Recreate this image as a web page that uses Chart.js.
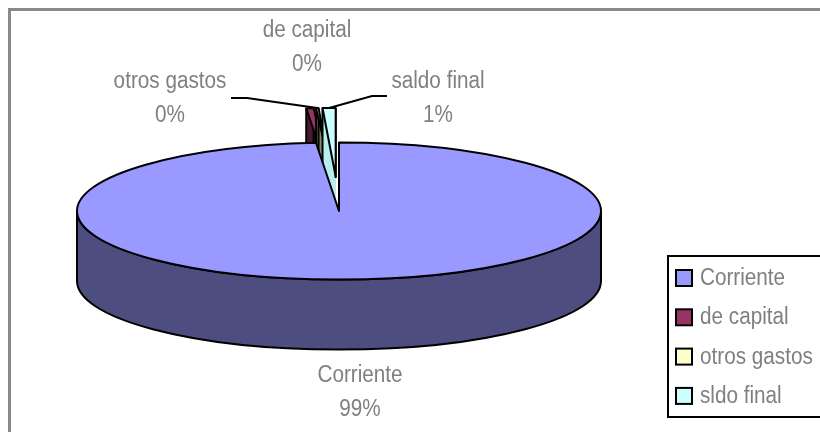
<!DOCTYPE html>
<html>
<head>
<meta charset="utf-8">
<script src="https://cdn.jsdelivr.net/npm/chart.js@4/dist/chart.umd.min.js"></script>
<style>
html, body { margin: 0; padding: 0; background: #fff; }
#caixa { width: 820px; height: 432px; position: relative; }
</style>
</head>
<body>
<div id="caixa"><canvas id="grafico"></canvas></div>
<script>
// dados
const categorias = ['Corriente', 'de capital', 'otros gastos', 'sldo final'];
const rotulos = ['Corriente', 'de capital', 'otros gastos', 'saldo final'];
const valores = [98.6, 0.45, 0.15, 0.8];

// estilos
const coresTopo = ['#9999ff', '#993366', '#ffffcc', '#ccffff'];
const coresLado = ['#4d4d80', '#4d1a33', '#8c8c6e', '#b8eeee'];
const separacao = [0, 85, 85, 85];
const RX = 262, RY = 68.5, PROF = 70;
const FONTE = '23px "Liberation Sans", Arial, sans-serif';
const ESTREITO = 0.9;
const CINZA = '#808080';

// posição dos rótulos (centro x, linha de base da primeira linha)
const posRotulos = [[360, 382], [307, 37], [170, 88], [438, 88]];

function geometria(chart) {
  const arcos = chart.getDatasetMeta(0).data;
  const R = arcos[0].outerRadius;
  const sx = RX / R, sy = RY / R;
  const cx = arcos[0].x, cy = arcos[0].y;
  const fatias = arcos.map(a => {
    const meio = (a.startAngle + a.endAngle) / 2;
    const off = a.options.offset || 0;
    return {
      s: a.startAngle, e: a.endAngle, meio,
      x: cx + Math.cos(meio) * off * sx,
      y: cy + Math.sin(meio) * off * sy
    };
  });
  return { cx, cy, fatias };
}

function caminhoFatia(ctx, x, y, s, e) {
  ctx.beginPath();
  ctx.moveTo(x, y);
  ctx.ellipse(x, y, RX, RY, 0, s, e);
  ctx.closePath();
}

// parede frontal (ângulos entre 0 e PI)
function paredeFrontal(ctx, f) {
  const TAU = Math.PI * 2;
  for (let k = -1; k <= 1; k++) {
    const a = Math.max(f.s + k * TAU, 0);
    const b = Math.min(f.e + k * TAU, Math.PI);
    if (b <= a) continue;
    ctx.beginPath();
    ctx.ellipse(f.x, f.y, RX, RY, 0, a, b);
    ctx.ellipse(f.x, f.y + PROF, RX, RY, 0, b, a, true);
    ctx.closePath();
    ctx.fill();
    ctx.stroke();
  }
}

function texto(ctx, t, x, y) {
  ctx.save();
  ctx.translate(x, y);
  ctx.scale(ESTREITO, 1);
  ctx.fillText(t, 0, 0);
  ctx.restore();
}

const pizza3d = {
  id: 'pizza3d',
  beforeDatasetsDraw(chart) {
    const ctx = chart.ctx;
    const g = geometria(chart);
    ctx.save();
    ctx.lineWidth = 2;
    ctx.strokeStyle = '#000';
    ctx.lineJoin = 'round';

    // fatias separadas (atrás)
    g.fatias.forEach((f, i) => {
      if (i === 0) return;
      ctx.fillStyle = coresLado[i];
      for (let z = PROF; z > 0; z--) {
        caminhoFatia(ctx, f.x, f.y + z, f.s, f.e);
        ctx.fill();
      }
      ctx.beginPath();
      [f.s, f.e].forEach(a => {
        const px = f.x + Math.cos(a) * RX, py = f.y + Math.sin(a) * RY;
        ctx.moveTo(px, py);
        ctx.lineTo(px, py + PROF);
      });
      ctx.stroke();
      caminhoFatia(ctx, f.x, f.y, f.s, f.e);
      ctx.fillStyle = coresTopo[i];
      ctx.fill();
      ctx.stroke();
    });

    // fatia principal
    const f0 = g.fatias[0];
    ctx.fillStyle = coresLado[0];
    paredeFrontal(ctx, f0);
    caminhoFatia(ctx, f0.x, f0.y, f0.s, f0.e);
    ctx.fillStyle = coresTopo[0];
    ctx.fill();
    ctx.stroke();

    ctx.restore();
    return false;
  },
  afterDraw(chart) {
    const ctx = chart.ctx;
    const g = geometria(chart);
    const total = valores.reduce((s, v) => s + v, 0);
    ctx.save();

    // moldura
    ctx.fillStyle = '#8a8a8a';
    ctx.fillRect(8, 8, 812, 3);
    ctx.fillRect(8, 8, 3, 424);

    // linhas de chamada
    ctx.strokeStyle = '#000';
    ctx.lineWidth = 2;
    const ponta = f => [f.x + Math.cos(f.meio) * RX, f.y + Math.sin(f.meio) * RY];
    let p = ponta(g.fatias[2]);
    ctx.beginPath();
    ctx.moveTo(231, 98); ctx.lineTo(247, 98); ctx.lineTo(p[0], p[1]);
    ctx.stroke();
    p = ponta(g.fatias[3]);
    ctx.beginPath();
    ctx.moveTo(p[0], p[1]); ctx.lineTo(372, 96); ctx.lineTo(387, 96);
    ctx.stroke();

    // rótulos
    ctx.font = FONTE;
    ctx.fillStyle = CINZA;
    ctx.textAlign = 'center';
    ctx.textBaseline = 'alphabetic';
    rotulos.forEach((r, i) => {
      const [x, y] = posRotulos[i];
      texto(ctx, r, x, y);
      texto(ctx, Math.round(valores[i] / total * 100) + '%', x, y + 34);
    });

    // legenda
    ctx.lineWidth = 2;
    ctx.strokeStyle = '#000';
    ctx.strokeRect(668, 256, 170, 161);
    ctx.textAlign = 'left';
    categorias.forEach((c, i) => {
      const yc = 278 + i * 39.3;
      ctx.fillStyle = coresTopo[i];
      ctx.fillRect(676, yc - 8, 16, 16);
      ctx.strokeRect(676, yc - 8, 16, 16);
      ctx.fillStyle = CINZA;
      texto(ctx, c, 700, yc + 7);
    });

    ctx.restore();
  }
};

new Chart(document.getElementById('grafico'), {
  type: 'pie',
  data: {
    labels: categorias,
    datasets: [{
      data: valores,
      backgroundColor: coresTopo,
      borderWidth: 0,
      offset: separacao,
      hoverOffset: 0
    }]
  },
  options: {
    responsive: true,
    maintainAspectRatio: false,
    animation: false,
    events: [],
    layout: { padding: { left: 0, right: 142, top: 0, bottom: 10 } },
    plugins: { legend: { display: false }, tooltip: { enabled: false } }
  },
  plugins: [pizza3d]
});
</script>
</body>
</html>
